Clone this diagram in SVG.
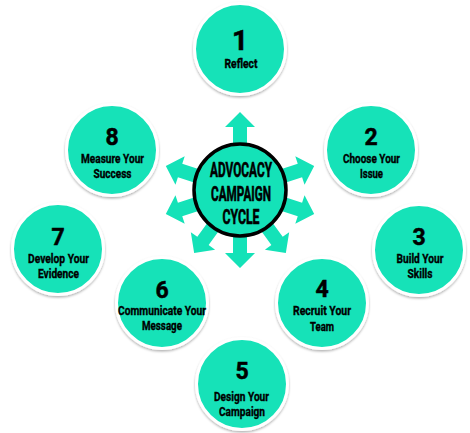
<svg xmlns="http://www.w3.org/2000/svg" width="470" height="433" viewBox="0 0 470 433">
  <defs>
    <style>
      .step { fill: #14E2B8; stroke: #ffffff; stroke-width: 3; filter: url(#soft); }
      .hub { fill: #14E2B8; stroke: #000000; stroke-width: 3.5; }
      .spoke { fill: #14E2B8; }
      .num { font-family: Roboto, "Liberation Sans", sans-serif; font-weight: 700; font-size: 23px; fill: #000; stroke: #000; stroke-width: 0.5; text-anchor: middle; }
      .big { font-size: 28px; }
      .lbl { font-family: Roboto, "Liberation Sans", sans-serif; font-weight: 700; font-size: 12.5px; fill: #000; stroke: #000; stroke-width: 0.35; text-anchor: middle; }
      .hubtxt { font-family: Roboto, "Liberation Sans", sans-serif; font-weight: 700; font-size: 20px; fill: #000; stroke: #000; stroke-width: 0.6; text-anchor: middle; }
    </style>
    <filter id="soft" x="-20%" y="-20%" width="140%" height="150%">
      <feDropShadow dx="0" dy="1.5" stdDeviation="1.3" flood-color="#000" flood-opacity="0.3"/>
    </filter>
    <path id="arrow" d="M0,-7 L63,-7 L63,-15 L78,0 L63,15 L63,7 L0,7 Z"/>
  </defs>

  <rect width="470" height="433" fill="#ffffff"/>

  <!-- radiating arrows around the hub -->
  <g id="connectors" class="spoke" transform="translate(240,190)">
    <use href="#arrow" transform="rotate(-90)"/>
    <use href="#arrow" transform="rotate(-18)"/>
    <use href="#arrow" transform="rotate(18)"/>
    <use href="#arrow" transform="rotate(54)"/>
    <use href="#arrow" transform="rotate(90)"/>
    <use href="#arrow" transform="rotate(126)"/>
    <use href="#arrow" transform="rotate(162)"/>
    <use href="#arrow" transform="rotate(198)"/>
  </g>

  <!-- central hub -->
  <g id="hub">
    <circle class="hub" cx="240" cy="190" r="46"/>
    <text class="hubtxt" x="241" y="177" textLength="62" lengthAdjust="spacingAndGlyphs">ADVOCACY</text>
    <text class="hubtxt" x="241" y="201" textLength="60" lengthAdjust="spacingAndGlyphs">CAMPAIGN</text>
    <text class="hubtxt" x="241" y="224" textLength="37" lengthAdjust="spacingAndGlyphs">CYCLE</text>
  </g>

  <g id="step1">
    <circle class="step" cx="240" cy="49" r="45.5"/>
    <text class="num big" x="240" y="50">1</text>
    <text class="lbl" x="241" y="68" textLength="33" lengthAdjust="spacingAndGlyphs">Reflect</text>
  </g>

  <g id="step2">
    <circle class="step" cx="371" cy="150" r="45.5"/>
    <text class="num" x="371" y="145">2</text>
    <text class="lbl" x="371.5" y="163" textLength="57" lengthAdjust="spacingAndGlyphs">Choose Your</text>
    <text class="lbl" x="371.5" y="178" textLength="23" lengthAdjust="spacingAndGlyphs">Issue</text>
  </g>

  <g id="step3">
    <circle class="step" cx="419" cy="250" r="45.5"/>
    <text class="num" x="419" y="245">3</text>
    <text class="lbl" x="420" y="263" textLength="47" lengthAdjust="spacingAndGlyphs">Build Your</text>
    <text class="lbl" x="420" y="278" textLength="25" lengthAdjust="spacingAndGlyphs">Skills</text>
  </g>

  <g id="step4">
    <circle class="step" cx="322" cy="303" r="45.5"/>
    <text class="num" x="322" y="297">4</text>
    <text class="lbl" x="322" y="315" textLength="58" lengthAdjust="spacingAndGlyphs">Recruit Your</text>
    <text class="lbl" x="322" y="331" textLength="24" lengthAdjust="spacingAndGlyphs">Team</text>
  </g>

  <g id="step5">
    <circle class="step" cx="242" cy="384" r="45.5"/>
    <text class="num" x="242" y="379">5</text>
    <text class="lbl" x="241.5" y="401" textLength="55" lengthAdjust="spacingAndGlyphs">Design Your</text>
    <text class="lbl" x="242" y="416" textLength="46" lengthAdjust="spacingAndGlyphs">Campaign</text>
  </g>

  <g id="step6">
    <circle class="step" cx="162" cy="303" r="45.5"/>
    <text class="num" x="162" y="298">6</text>
    <text class="lbl" x="162" y="315" textLength="88" lengthAdjust="spacingAndGlyphs">Communicate Your</text>
    <text class="lbl" x="162" y="330" textLength="40" lengthAdjust="spacingAndGlyphs">Message</text>
  </g>

  <g id="step7">
    <circle class="step" cx="58" cy="249" r="45.5"/>
    <text class="num" x="58" y="245">7</text>
    <text class="lbl" x="58.5" y="263" textLength="61" lengthAdjust="spacingAndGlyphs">Develop Your</text>
    <text class="lbl" x="58.5" y="278" textLength="41" lengthAdjust="spacingAndGlyphs">Evidence</text>
  </g>

  <g id="step8">
    <circle class="step" cx="112" cy="150" r="45.5"/>
    <text class="num" x="112" y="145">8</text>
    <text class="lbl" x="112.5" y="163" textLength="63" lengthAdjust="spacingAndGlyphs">Measure Your</text>
    <text class="lbl" x="112.5" y="178" textLength="38" lengthAdjust="spacingAndGlyphs">Success</text>
  </g>
</svg>
